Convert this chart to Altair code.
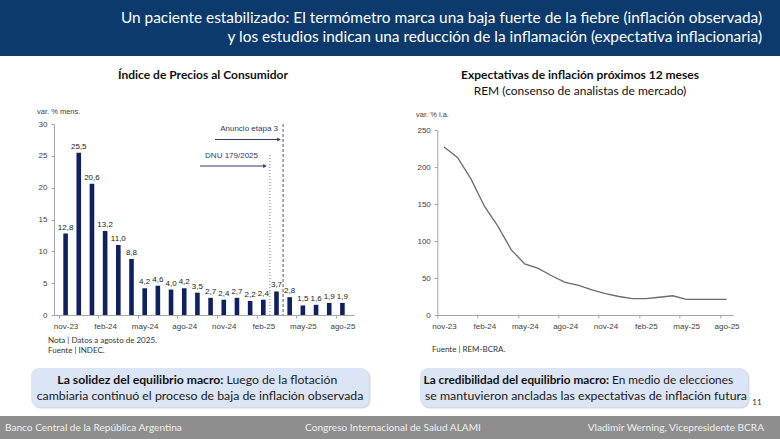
import json
import altair as alt
import pandas as pd

# ---------------------------------------------------------------- data
months = ["nov-23", "dic-23", "ene-24", "feb-24", "mar-24", "abr-24", "may-24",
          "jun-24", "jul-24", "ago-24", "sep-24", "oct-24", "nov-24", "dic-24",
          "ene-25", "feb-25", "mar-25", "abr-25", "may-25", "jun-25", "jul-25",
          "ago-25"]
ipc_mensual = [12.8, 25.5, 20.6, 13.2, 11.0, 8.8, 4.2, 4.6, 4.0, 4.2, 3.5, 2.7,
               2.4, 2.7, 2.2, 2.4, 3.7, 2.8, 1.5, 1.6, 1.9, 1.9]
rem_12m = [227, 213, 184, 147, 120, 88, 69, 63, 53, 44, 40, 34, 29, 25, 22, 22,
           24, 26, 21, 21, 21, 21]
tick_months = ["nov-23", "feb-24", "may-24", "ago-24", "nov-24", "feb-25",
               "may-25", "ago-25"]
ipc_ticks = [0, 5, 10, 15, 20, 25, 30]
rem_ticks = [0, 50, 100, 150, 200, 250]
# policy milestones: the month in which each one takes effect
event_labels = ["DNU 179/2025", "Anuncio etapa 3"]
event_months = ["mar-25", "abr-25"]

# ---------------------------------------------------------------- styles
NAVY = "#0f2160"
HEADER = "#0c3a6d"
BOX = "#dbe5f6"
FOOTER = "#8e8e8e"
AXIS_GREY = "#a6a6a6"
LABEL = "#404040"
ANNOT = "#2e3a68"
CHART_FONT = "Liberation Sans"
SLIDE_FONT = "Lato"

W_LEFT, W_RIGHT, H = 300, 296, 191
GAP = 83.3

idx = list(range(len(months)))
ipc = pd.DataFrame({
    "i": idx, "mes": months, "valor": ipc_mensual,
    "etiqueta": [f"{v:.1f}".replace(".", ",") for v in ipc_mensual],
})
rem = pd.DataFrame({"i": idx, "mes": months, "valor": rem_12m})
events = pd.DataFrame({
    "evento": event_labels,
    "i": [months.index(m) - 0.5 for m in event_months],
})

label_expr = f"{json.dumps(months)}[datum.value]"
tick_idx = [months.index(m) for m in tick_months]
X_DOMAIN = [-0.5, len(months) - 0.5]


def month_axis(width):
    half = width / len(months) / 2
    return alt.Axis(values=tick_idx, labelExpr=label_expr, title=None,
                    grid=False, tickOffset=-half, labelOffset=half,
                    tickSize=3, tickColor=AXIS_GREY, domainColor=AXIS_GREY,
                    labelFont=CHART_FONT, labelFontSize=8, labelColor=LABEL,
                    labelPadding=4, labelAngle=0, labelOverlap=False)


def value_axis(vals):
    return alt.Axis(values=vals, title=None, grid=False, tickSize=3,
                    tickColor=AXIS_GREY, domainColor=AXIS_GREY,
                    labelFont=CHART_FONT, labelFontSize=8, labelColor=LABEL,
                    labelPadding=4, labelOverlap=False)


ONE = alt.Data(values=[{}])


def rect(x1, x2, y1, y2, color, radius=0, opacity=1.0):
    return alt.Chart(ONE).mark_rect(
        color=color, cornerRadius=radius, opacity=opacity
    ).encode(x=alt.value(x1), x2=alt.value(x2), y=alt.value(y1), y2=alt.value(y2))


def text(t, x, y, size, color, align="left", weight="normal", font=SLIDE_FONT):
    return alt.Chart(ONE).mark_text(
        text=t, align=align, baseline="middle", fontSize=size, font=font,
        fontWeight=weight, color=color
    ).encode(x=alt.value(x), y=alt.value(y))


def hline(x1, x2, y, color, width=1.0):
    return alt.Chart(ONE).mark_rule(color=color, strokeWidth=width).encode(
        x=alt.value(x1), x2=alt.value(x2), y=alt.value(y))


def arrow_head(x, y, color):
    return alt.Chart(ONE).mark_point(
        shape="triangle-right", filled=True, size=18, color=color, opacity=1
    ).encode(x=alt.value(x), y=alt.value(y))


# ---------------------------------------------------------------- left panel: CPI
x_left = alt.X("i:Q", scale=alt.Scale(domain=X_DOMAIN, nice=False, zero=False),
               axis=month_axis(W_LEFT))
y_left = alt.Y("valor:Q", scale=alt.Scale(domain=[0, 30], nice=False),
               axis=value_axis(ipc_ticks))

bars = alt.Chart(ipc).mark_bar(size=4.6, color=NAVY).encode(x=x_left, y=y_left)
bar_labels = alt.Chart(ipc).mark_text(
    baseline="bottom", dy=-2, fontSize=8, font=CHART_FONT, color="#222222"
).encode(x=x_left, y=y_left, text="etiqueta:N")

rule_dnu = alt.Chart(events).transform_filter(
    alt.datum.evento == "DNU 179/2025"
).mark_rule(color="#7a7a7a", strokeDash=[1, 2], strokeWidth=1).encode(
    x=x_left, y=alt.value(31), y2=alt.value(H))
rule_etapa3 = alt.Chart(events).transform_filter(
    alt.datum.evento == "Anuncio etapa 3"
).mark_rule(color="#555555", strokeDash=[3, 2], strokeWidth=1).encode(
    x=x_left, y=alt.value(0), y2=alt.value(H))

# slide furniture, in pixels from the left plot's top-left corner
OX, OY = 54, 124
SW, SH = 780, 439

decor = [
    rect(-OX, SW - OX, -OY, 56 - OY, HEADER),
    rect(-OX, SW - OX, 416 - OY, SH - OY, FOOTER),
    # highlight boxes (with a faint drop shadow)
    rect(31 - OX + 1.5, 369 - OX + 1.5, 368 - OY + 1.5, 407 - OY + 1.5, "#b9c3d6", 8, 0.6),
    rect(31 - OX, 369 - OX, 368 - OY, 407 - OY, BOX, 8),
    rect(420 - OX + 1.5, 748 - OX + 1.5, 368 - OY + 1.5, 407 - OY + 1.5, "#b9c3d6", 8, 0.6),
    rect(420 - OX, 748 - OX, 368 - OY, 407 - OY, BOX, 8),
]

words = [
    text("Un paciente estabilizado: El termómetro marca una baja fuerte de la fiebre (inflación observada)",
         762 - OX, 18 - OY, 15.4, "white", align="right"),
    text("y los estudios indican una reducción de la inflamación (expectativa inflacionaria)",
         762 - OX, 37 - OY, 15.4, "white", align="right"),
    text("Índice de Precios al Consumidor", 203 - OX, 75 - OY, 12, "#111111",
         align="center", weight="bold"),
    text("Expectativas de inflación próximos 12 meses", 580 - OX, 75 - OY, 12,
         "#111111", align="center", weight="bold"),
    text("REM (consenso de analistas de mercado)", 580 - OX, 91 - OY, 12,
         "#111111", align="center"),
    text("var. % mens.", 37 - OX, 112 - OY, 7.5, LABEL, font=CHART_FONT),
    text("var. % i.a.", 416 - OX, 114.5 - OY, 7.5, LABEL, font=CHART_FONT),
    # milestone annotations
    text("Anuncio etapa 3", 278 - OX, 129 - OY, 8, ANNOT, align="right", font=CHART_FONT),
    hline(215 - OX, 279 - OX, 139.5 - OY, ANNOT),
    arrow_head(279 - OX, 139.5 - OY, ANNOT),
    text("DNU 179/2025", 258 - OX, 156 - OY, 8, ANNOT, align="right", font=CHART_FONT),
    hline(200 - OX, 265 - OX, 166 - OY, ANNOT),
    arrow_head(265 - OX, 166 - OY, ANNOT),
    # notes and sources
    text("Nota | Datos a agosto de 2025.", 48 - OX, 340.5 - OY, 8, "#333333"),
    text("Fuente | INDEC.", 48 - OX, 350.5 - OY, 8, "#333333"),
    text("Fuente | REM-BCRA.", 432 - OX, 349.5 - OY, 8, "#333333"),
    # box messages
    text("La solidez del equilibrio macro:", 223.5 - OX, 380 - OY, 12.2, "#111111",
         align="right", weight="bold"),
    text("Luego de la flotación", 226.5 - OX, 380 - OY, 12.2, "#1a1a1a"),
    text("cambiaria continuó el proceso de baja de inflación observada",
         200 - OX, 395.5 - OY, 12.3, "#1a1a1a", align="center"),
    text("La credibilidad del equilibrio macro:", 609 - OX, 380 - OY, 11.8,
         "#111111", align="right", weight="bold"),
    text("En medio de elecciones", 612 - OX, 380 - OY, 11.8, "#1a1a1a"),
    text("se mantuvieron ancladas las expectativas de inflación futura",
         586 - OX, 395.5 - OY, 12.3, "#1a1a1a", align="center"),
    text("11", 757 - OX, 403 - OY, 8, "#333333", align="center"),
    # footer
    text("Banco Central de la República Argentina", 5 - OX, 428 - OY, 10.1, "#eeeeee"),
    text("Congreso Internacional de Salud ALAMI", 393 - OX, 428 - OY, 10.1,
         "#eeeeee", align="center"),
    text("Vladimir Werning, Vicepresidente BCRA", 764 - OX, 428 - OY, 10.1,
         "#eeeeee", align="right"),
]

left = alt.layer(
    *decor, bars, bar_labels, rule_dnu, rule_etapa3, *words
).properties(width=W_LEFT, height=H)

# ---------------------------------------------------------------- right panel: REM
x_right = alt.X("i:Q", scale=alt.Scale(domain=X_DOMAIN, nice=False, zero=False),
                axis=month_axis(W_RIGHT))
y_right = alt.Y("valor:Q", scale=alt.Scale(domain=[0, 250], nice=False, range=[H, 6]),
                axis=value_axis(rem_ticks))
line = alt.Chart(rem).mark_line(color="#6b6b6b", strokeWidth=1.3).encode(
    x=x_right, y=y_right)
right = line.properties(width=W_RIGHT, height=H)

chart = alt.hconcat(left, right, spacing=GAP, bounds="flush").properties(
    padding=0, background="white"
).configure_view(stroke=None)

chart.save("out.html", embed_options={"renderer": "svg", "actions": False})
